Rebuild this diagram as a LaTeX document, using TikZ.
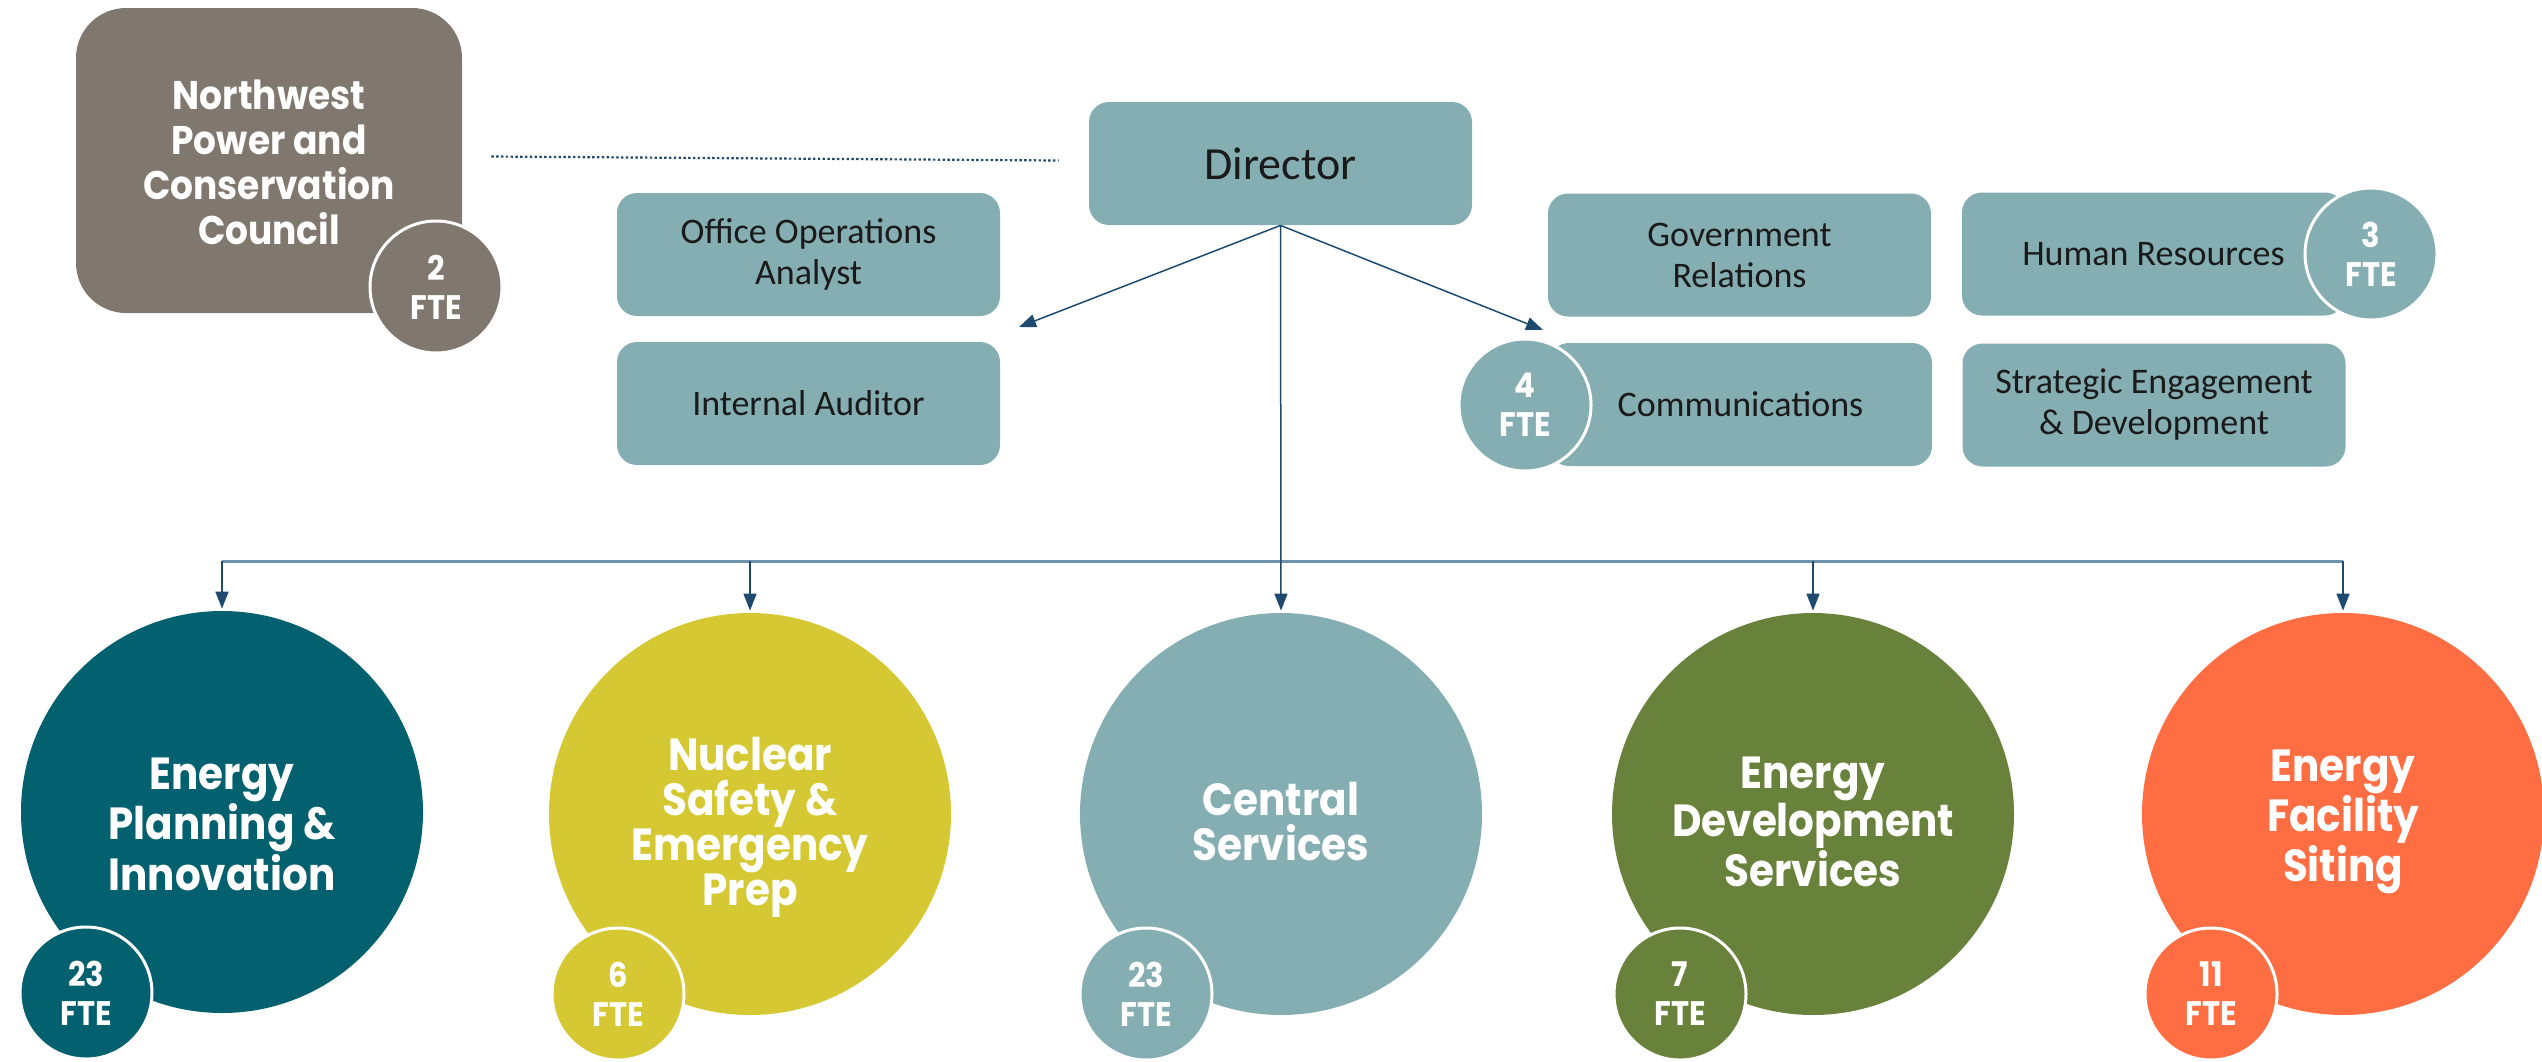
\documentclass[tikz,border=0pt]{standalone}
\usepackage{fontspec}
\setmainfont{Carlito}
\newfontfamily\lblfont{Poppins}[FakeStretch=0.9]
\usetikzlibrary{arrows.meta,calc}
\definecolor{cNpcc}{HTML}{80776E}
\definecolor{cTeal}{HTML}{85AEB3}
\definecolor{cDark}{HTML}{03606F}
\definecolor{cYellow}{HTML}{D5C832}
\definecolor{cGreen}{HTML}{68823B}
\definecolor{cOrange}{HTML}{FF6D43}
\definecolor{cLine}{HTML}{1D4A6E}
\definecolor{cBar}{HTML}{6D93AF}
\definecolor{cText}{HTML}{1A1A1A}
\begin{document}
\begin{tikzpicture}[x=0.5pt,y=-0.5pt,
 box/.style={fill=cTeal, rounded corners=10pt, minimum width=191.5pt, minimum height=61.5pt, align=center, text=cText, font=\fontsize{18}{20.5}\selectfont, inner sep=0pt},
 bigc/.style={circle, minimum size=201pt, inner sep=0pt},
 ftec/.style={circle, draw=white, line width=1.5pt, minimum size=66pt, inner sep=0pt, text=white, align=center, font=\lblfont\bfseries\fontsize{17}{19.5}\selectfont},
 lbl/.style={text=white, align=center, font=\lblfont\bfseries\fontsize{22.5}{22.5}\selectfont},
 arr/.style={draw=cLine, line width=0.75pt, -{Triangle[length=8.5pt,width=6.5pt]}},
]
\useasboundingbox (0,0) rectangle (2542,1061);
\clip (0,0) rectangle (2542,1061);

% Council
\node[fill=cNpcc, rounded corners=25pt, minimum width=193pt, minimum height=152.5pt, inner sep=0pt] (npcc) at (269,160.5) {};
\node[lbl, font=\lblfont\bfseries\fontsize{20}{22.5}\selectfont] (npcct) at (269,162) {Northwest\\Power and\\Conservation\\Council};
\node[ftec, fill=cNpcc] (f0) at (436,287) {2\\FTE};

% Director and staff
\node[box, font=\fontsize{23}{27}\selectfont] (dir) at (1280.5,163.5) {Director};
\node[box] (ooa) at (808.5,254.5) {Office Operations\\Analyst};
\node[box] (ia) at (808.5,403.5) {Internal Auditor};
\node[box] (gr) at (1739.5,255) {Government\\Relations};
\node[box] (hr) at (2153.5,254) {Human Resources};
\node[ftec, fill=cTeal] (fhr) at (2371,254) {3\\FTE};
\node[box] (com) at (1740.5,404.5) {Communications};
\node[ftec, fill=cTeal] (fcom) at (1525,405) {4\\FTE};
\node[box] (sed) at (2154,405) {Strategic Engagement\\\& Development};

% Divisions
\node[bigc, fill=cDark] (c1) at (222,812) {};
\node[bigc, fill=cYellow] (c2) at (750,814) {};
\node[bigc, fill=cTeal] (c3) at (1281,814) {};
\node[bigc, fill=cGreen] (c4) at (1813,814) {};
\node[bigc, fill=cOrange] (c5) at (2343,814) {};
\node[lbl] (t1) at (222,824) {Energy\\Planning \&\\Innovation};
\node[lbl] (t2) at (750,827) {Nuclear\\Safety \&\\Emergency\\Prep};
\node[lbl] (t3) at (1281,822) {Central\\Services};
\node[lbl] (t4) at (1813,822) {Energy\\Development\\Services};
\node[lbl] (t5) at (2343,822) {Energy\\Facility\\Siting};
\node[ftec, fill=cDark] (f1) at (86,993) {23\\FTE};
\node[ftec, fill=cYellow] (f2) at (618,994) {6\\FTE};
\node[ftec, fill=cTeal] (f3) at (1146,994) {23\\FTE};
\node[ftec, fill=cGreen] (f4) at (1680,994) {7\\FTE};
\node[ftec, fill=cOrange] (f5) at (2211,994) {11\\FTE};

% Connectors
\coordinate (oaTip) at (1019,327);
\coordinate (comTip) at (1543,330);
\coordinate (bar) at (1281,561);
\draw[cLine, line width=1.1pt, dash pattern=on 1.2pt off 1.2pt] ($(npcc.east)+(29,-4)$) -- ($(dir.west)+(-30,-3)$);
\draw[arr] (dir.south) -- (oaTip);
\draw[arr] (dir.south) -- (comTip);
\draw[cBar, line width=1.5pt] (c1.north |- bar) -- (c5.north |- bar);
\draw[arr] (dir.south) -- ([yshift=1pt]c3.north);
\draw[arr] (c1.north |- bar) -- ([yshift=1pt]c1.north);
\draw[arr] (c2.north |- bar) -- ([yshift=1pt]c2.north);
\draw[arr] (c4.north |- bar) -- ([yshift=1pt]c4.north);
\draw[arr] (c5.north |- bar) -- ([yshift=1pt]c5.north);
\end{tikzpicture}
\end{document}
